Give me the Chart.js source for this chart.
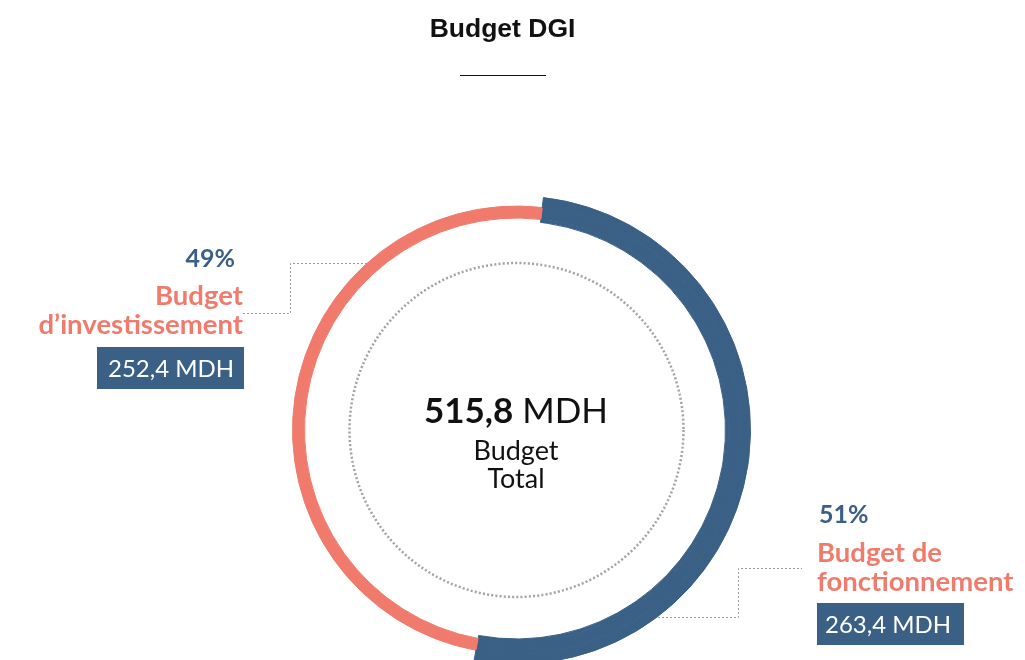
<!DOCTYPE html>
<html>
<head>
<meta charset="utf-8">
<script src="https://cdn.jsdelivr.net/npm/chart.js@4/dist/chart.umd.min.js"></script>
<style>
    html, body { margin: 0; padding: 0; background: #fff; }
    #wrap { position: relative; width: 1025px; height: 660px; overflow: hidden; }
    #budgetChart { position: absolute; left: 0; top: 0; }
    .txt { position: absolute; white-space: nowrap; font-family: Lato, "Noto Sans", sans-serif; }
    #title { left: 0; width: 1005px; top: 13px; text-align: center; font: bold 26.5px "Liberation Sans", Arial, sans-serif; color: #111; }
    #titleRule { position: absolute; left: 460px; top: 75px; width: 86px; height: 0; border-top: 1.5px solid #111; }
    .pct { font-weight: bold; font-size: 25px; color: #3a6086; line-height: 30px; }
    .lbl { font-weight: bold; font-size: 27.5px; color: #f07b6c; line-height: 29px; }
    .box { background: #3a6086; color: #fff; font-size: 24px; line-height: 42px; height: 42px; }
    #centre { left: 316px; width: 400px; top: 388px; text-align: center; color: #111; }
    #centre .big { font-size: 35px; line-height: 42px; }
    #centre .sub { font-size: 27px; line-height: 28px; margin-top: 6px; }
</style>
</head>
<body>
<div id="wrap">
    <canvas id="budgetChart" width="1025" height="680"></canvas>
    <div id="title" class="txt"></div>
    <div id="titleRule"></div>
    <div id="centre" class="txt"></div>
    <div id="leftPct" class="txt pct" style="right:790px; top:242px; text-align:right;"></div>
    <div id="leftLbl" class="txt lbl" style="right:782px; top:280px; text-align:right;"></div>
    <div id="leftBox" class="txt box" style="left:97px; top:347px; width:147px; text-indent:11px;"></div>
    <div id="rightPct" class="txt pct" style="left:819px; top:498px;"></div>
    <div id="rightLbl" class="txt lbl" style="left:817px; top:537px;"></div>
    <div id="rightBox" class="txt box" style="left:817px; top:603px; width:147px; text-indent:8px;"></div>
</div>
<script>
// Données
const categories = ['Budget de fonctionnement', "Budget d’investissement"];
const budgetValues = [263.4, 252.4];
const budgetTotal = '515,8';
const chartTitle = 'Budget DGI';

const blue = '#3a6086';
const salmon = '#f07b6c';
const none = 'rgba(0,0,0,0)';

function fmt(v) {
    return v.toFixed(1).replace('.', ',');
}

const total = budgetValues.reduce((a, b) => a + b, 0);
const pcts = budgetValues.map(v => Math.round(v / total * 100));

// Textes
document.getElementById('title').textContent = chartTitle;
document.getElementById('centre').innerHTML =
    '<div class="big"><b>' + budgetTotal + '</b> MDH</div>' +
    '<div class="sub">Budget<br>Total</div>';
document.getElementById('rightPct').textContent = pcts[0] + '%';
document.getElementById('rightLbl').innerHTML = 'Budget de<br>fonctionnement';
document.getElementById('rightBox').textContent = fmt(budgetValues[0]) + ' MDH';
document.getElementById('leftPct').textContent = pcts[1] + '%';
document.getElementById('leftLbl').innerHTML = 'Budget<br>d’investissement';
document.getElementById('leftBox').textContent = fmt(budgetValues[1]) + ' MDH';

// Cercle pointillé et lignes de rappel
const decorPlugin = {
    id: 'decor',
    beforeDatasetsDraw(chart) {
        const arc = chart.getDatasetMeta(0).data[0];
        const ctx = chart.ctx;
        ctx.save();
        ctx.strokeStyle = '#a3a3a3';
        ctx.lineWidth = 2.5;
        ctx.setLineDash([2, 2.2]);
        ctx.beginPath();
        ctx.arc(arc.x, arc.y, 167, 0, Math.PI * 2);
        ctx.stroke();

        ctx.strokeStyle = '#9a9a9a';
        ctx.lineWidth = 1;
        ctx.setLineDash([2, 2]);
        ctx.beginPath();
        ctx.moveTo(243, 313.5); ctx.lineTo(290.5, 313.5); ctx.lineTo(290.5, 263.5); ctx.lineTo(368, 263.5);
        ctx.moveTo(650, 617.5); ctx.lineTo(738.5, 617.5); ctx.lineTo(738.5, 568.5); ctx.lineTo(802, 568.5);
        ctx.stroke();
        ctx.restore();
    }
};

// Anneau : bleu épais (3 couches), saumon fin (couche du milieu)
new Chart(document.getElementById('budgetChart').getContext('2d'), {
    type: 'doughnut',
    data: {
        labels: categories,
        datasets: [
            { data: budgetValues, backgroundColor: [blue, none], borderColor: [blue, none], borderWidth: 1, weight: 10 },
            { data: budgetValues, backgroundColor: [blue, salmon], borderColor: [blue, salmon], borderWidth: 1, weight: 12 },
            { data: budgetValues, backgroundColor: [blue, none], borderColor: [blue, none], borderWidth: 1, weight: 3 }
        ]
    },
    options: {
        responsive: false,
        animation: false,
        radius: 234,
        cutout: '89.3%',
        rotation: 6.6,
        layout: { padding: { left: 282, right: 274, top: 196, bottom: 16 } },
        plugins: {
            legend: { display: false },
            tooltip: { enabled: false }
        }
    },
    plugins: [decorPlugin]
});
</script>
</body>
</html>
